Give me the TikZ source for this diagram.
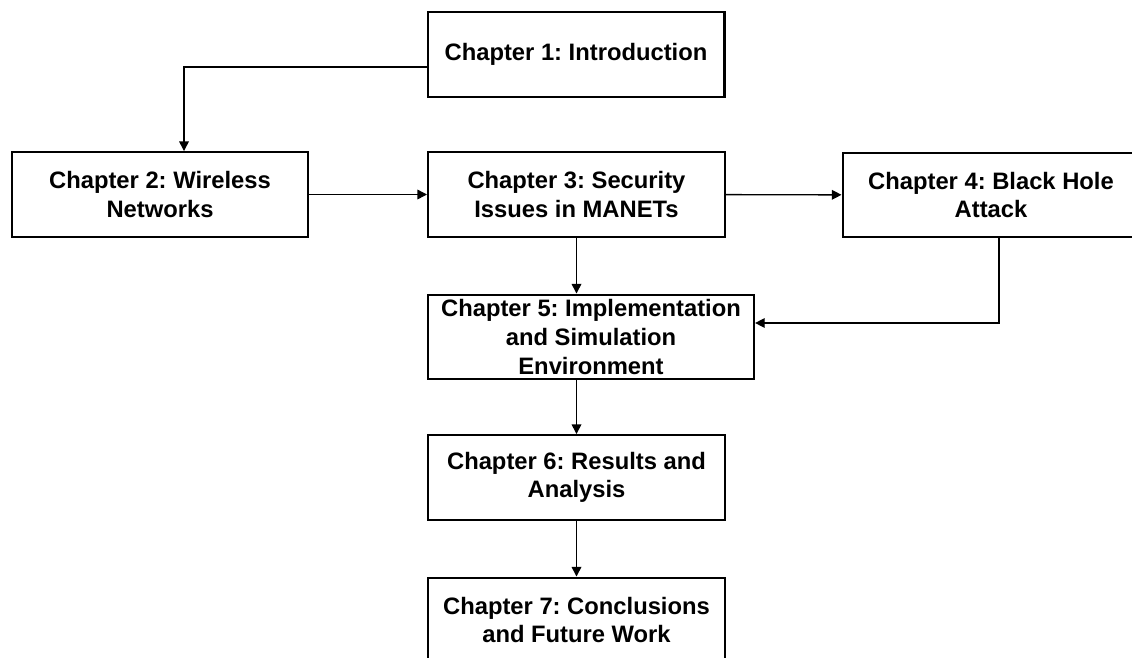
\documentclass[tikz,border=0pt]{standalone}
\usepackage{fontspec}
\setmainfont{Liberation Sans}
\usepackage{tikz}
\usetikzlibrary{positioning,arrows.meta}
\frenchspacing

\begin{document}
\begin{tikzpicture}[
  x=0.025cm, y=-0.025cm,
  chap/.style={draw, rectangle, line width=1.5pt, minimum width=7.42cm, minimum height=2.12cm, align=center, font=\fontsize{16.9}{20.3}\selectfont\bfseries, inner sep=2pt},
  arr/.style={-{Triangle[length=2.4mm,width=2.4mm]}, line width=1pt},
]
  \useasboundingbox (0,0) rectangle (1132,658);
  \clip (0,0) rectangle (1132,658);

  \node[chap] (ch1) at (576,54.5) {Chapter 1: Introduction};
  \node[chap] (ch2) at (160,194.5) {Chapter 2: Wireless\\Networks};
  \node[chap] (ch3) at (576.5,194.5) {Chapter 3: Security\\Issues in MANETs};
  \node[chap] (ch4) at (991,195) {Chapter 4: Black Hole\\Attack};
  \node[chap, minimum width=8.15cm] (ch5) at (591,337) {Chapter 5: Implementation\\and Simulation\\Environment};
  \node[chap] (ch6) at (576.5,477.5) {Chapter 6: Results and\\Analysis};
  \node[chap] (ch7) at (576.5,620) {Chapter 7: Conclusions\\and Future Work};

  \draw[arr] ([yshift=-0.31cm]ch1.west) -| ([xshift=0.6cm]ch2.north);
  \draw[arr] (ch2) -- (ch3);
  \draw[arr] (ch3) -- (ch4);
  \draw[arr] (ch3.south) -- (ch3.south |- ch5.north);
  \draw[arr] ([xshift=0.2cm]ch4.south) |- ([yshift=0.35cm]ch5.east);
  \draw[arr] (ch6.north |- ch5.south) -- (ch6.north);
  \draw[arr] (ch6) -- (ch7);
\end{tikzpicture}
\end{document}
